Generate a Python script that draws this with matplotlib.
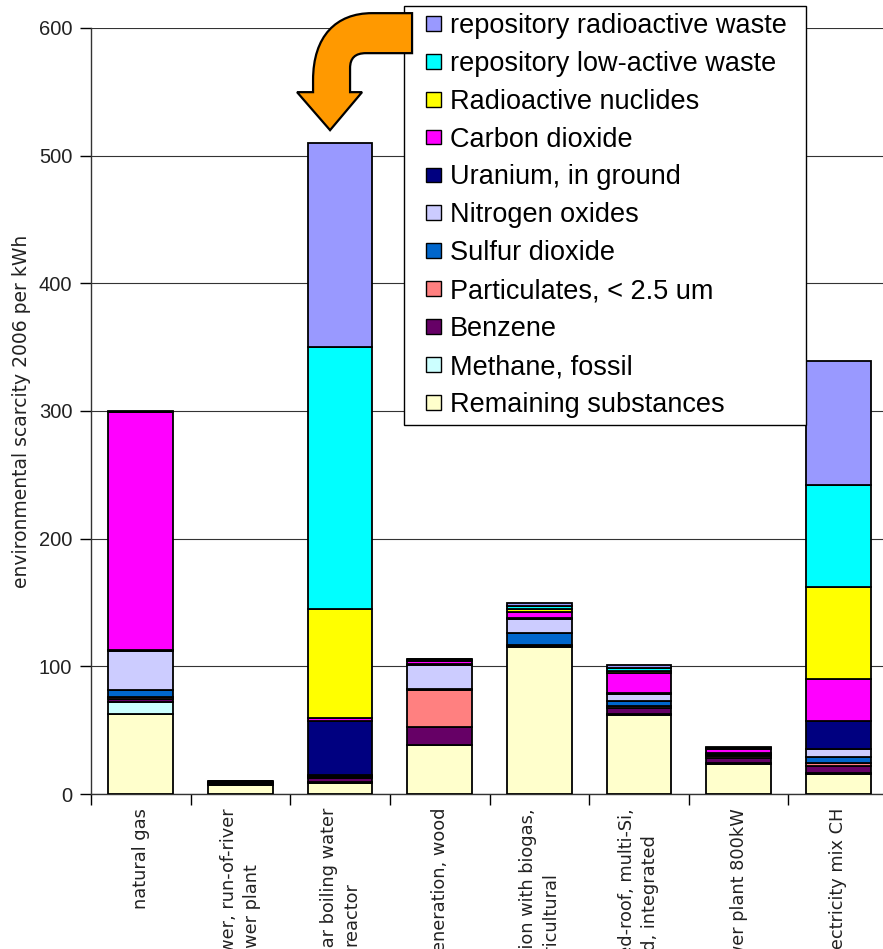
import matplotlib
matplotlib.use("Agg")
import matplotlib.pyplot as plt
from matplotlib.patches import Rectangle, PathPatch
from matplotlib.path import Path
from matplotlib.legend_handler import HandlerPatch
from matplotlib.transforms import IdentityTransform

# ---------------- data ----------------
categories = [
    "natural gas",
    "hydropower, run-of-river\npower plant",
    "at nuclear boiling water\nreactor",
    "cogeneration, wood",
    "cogeneration with biogas,\nagricultural",
    "3kWp slanted-roof, multi-Si,\nlaminated, integrated",
    "wind power plant 800kW",
    "electricity mix CH",
]

series_names = [
    "Remaining substances",
    "Methane, fossil",
    "Benzene",
    "Particulates, < 2.5 um",
    "Sulfur dioxide",
    "Nitrogen oxides",
    "Uranium, in ground",
    "Carbon dioxide",
    "Radioactive nuclides",
    "repository low-active waste",
    "repository radioactive waste",
]

remaining    = [63.0, 7.0, 8.9, 38.0, 115.4, 62.0, 23.5, 15.7]
methane      = [9.0, 0.3, 0.5, 0.3, 0.4, 1.0, 1.0, 1.0]
benzene      = [2.5, 0.2, 3.0, 14.4, 0.4, 4.5, 4.0, 5.5]
particulates = [1.1, 0.4, 1.0, 28.8, 0.6, 1.5, 1.0, 1.8]
so2          = [6.0, 0.5, 0.6, 1.0, 9.4, 4.2, 0.8, 5.0]
nox          = [30.7, 0.6, 0.6, 18.8, 10.7, 5.5, 0.8, 6.6]
uranium      = [0.4, 0.3, 42.8, 0.7, 1.0, 0.5, 0.8, 21.7]
co2          = [186.4, 0.7, 2.5, 2.5, 5.0, 15.3, 3.5, 32.6]
rad_nuclides = [0.3, 0.1, 85.4, 0.6, 2.0, 2.0, 0.5, 72.4]
low_active   = [0.2, 0.1, 204.7, 0.3, 2.0, 2.0, 0.5, 80.1]
repository   = [0.2, 0.1, 159.8, 0.3, 3.0, 2.5, 0.5, 96.6]

series_values = [remaining, methane, benzene, particulates, so2, nox,
                 uranium, co2, rad_nuclides, low_active, repository]

colors = ["#FFFFCC", "#CCFFFF", "#660066", "#FF8080", "#0066CC", "#CCCCFF",
          "#000080", "#FF00FF", "#FFFF00", "#00FFFF", "#9999FF"]

y_ticks = [0, 100, 200, 300, 400, 500, 600]
y_label = "environmental scarcity 2006 per kWh"

# ---------------- figure ----------------
W, H = 883, 949
fig = plt.figure(figsize=(W / 100, H / 100), dpi=100)
fig.patch.set_facecolor("white")
ax = fig.add_axes([91 / W, (H - 794) / H, 797 / W, 766 / H])

x = list(range(len(categories)))
bottoms = [0.0] * len(categories)
handles = []
for name, vals, col in zip(series_names, series_values, colors):
    bc = ax.bar(x, vals, width=0.65, bottom=bottoms, color=col,
                edgecolor="black", linewidth=1.3, label=name, zorder=3)
    handles.append(bc.patches[0])
    bottoms = [b + v for b, v in zip(bottoms, vals)]

ax.set_xlim(-0.5, len(categories) - 0.5)
ax.set_ylim(0, 600)
ax.set_yticks(y_ticks)
ax.set_yticklabels([str(t) for t in y_ticks], fontfamily="Liberation Sans",
                   fontsize=14.5, color="#222222")
ax.tick_params(axis="y", direction="out", length=8, width=1, color="black", pad=5.5)

ax.set_xticks(x)
ax.set_xticklabels(categories, rotation=90, fontfamily="DejaVu Sans",
                   fontsize=12.8, color="#222222", ha="center", va="top",
                   multialignment="center", linespacing=1.35)
ax.tick_params(axis="x", which="major", length=0, pad=10)
ax.set_xticks([i - 0.5 for i in range(len(categories) + 1)], minor=True)
ax.tick_params(axis="x", which="minor", direction="out", length=8, width=1,
               color="black")

ax.yaxis.grid(True, color="#333333", linewidth=0.8, zorder=0)
ax.set_axisbelow(True)
for s in ["top", "right"]:
    ax.spines[s].set_visible(False)
for s in ["left", "bottom"]:
    ax.spines[s].set_color("#333333")
    ax.spines[s].set_linewidth(1)

ax.set_ylabel(y_label, fontfamily="DejaVu Sans", fontsize=13.5,
              color="#222222", va="center")
ax.yaxis.set_label_coords(-69 / 797, 0.5)


# ---------------- legend ----------------
def square(legend, orig_handle, xdescent, ydescent, width, height, fontsize):
    s = 0.55 * fontsize
    return Rectangle((-xdescent + width - s, -ydescent + (height - s) / 2), s, s)


leg = fig.legend(handles[::-1], series_names[::-1], loc="upper left",
                 bbox_to_anchor=(404 / W, 1 - 6 / H, 402 / W, 0.0),
                 bbox_transform=fig.transFigure, mode="expand",
                 borderaxespad=0, prop={"family": "Liberation Sans", "size": 19.5},
                 frameon=True, fancybox=False, edgecolor="black", framealpha=1,
                 borderpad=0.25, labelspacing=0.44, handlelength=1.1,
                 handleheight=0.7, handletextpad=0.33,
                 handler_map={Rectangle: HandlerPatch(patch_func=square)})
leg.get_frame().set_linewidth(1)
for h in leg.legend_handles:
    h.set_linewidth(1)
leg.set_zorder(5)

# ---------------- curved arrow pointing at the nuclear bar ----------------
nuc_idx = 2
tip = ax.transData.transform((nuc_idx, bottoms[nuc_idx]))
tx, ty = tip[0] - 10, tip[1] + 13


def P(dx, dy):
    return (tx + dx, ty - dy)


verts = [P(0, 0), P(32, -38), P(20, -38), P(20, -62),
         P(20, -72), P(25, -77), P(36, -77),
         P(82, -77), P(82, -117), P(42, -117),
         P(6, -117), P(-17, -94), P(-17, -50),
         P(-17, -38), P(-33, -38), P(0, 0)]
codes = [Path.MOVETO, Path.LINETO, Path.LINETO, Path.LINETO,
         Path.CURVE4, Path.CURVE4, Path.CURVE4,
         Path.LINETO, Path.LINETO, Path.LINETO,
         Path.CURVE4, Path.CURVE4, Path.CURVE4,
         Path.LINETO, Path.LINETO, Path.CLOSEPOLY]
arrow = PathPatch(Path(verts, codes), facecolor="#FF9900", edgecolor="black",
                  linewidth=1.6, transform=IdentityTransform(), zorder=10)
fig.add_artist(arrow)

fig.savefig("out.png", dpi=100)
